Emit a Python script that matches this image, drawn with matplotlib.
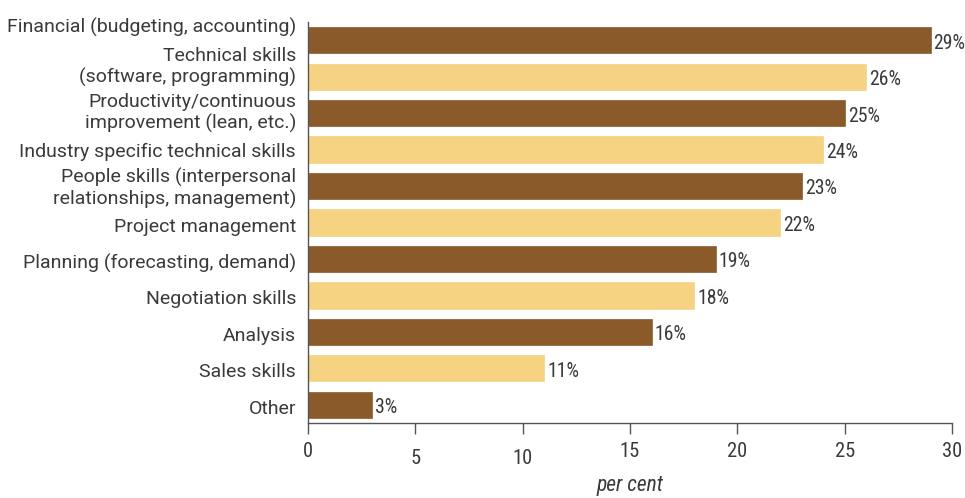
import matplotlib
matplotlib.use("Agg")
import matplotlib.pyplot as plt
from matplotlib import font_manager
from matplotlib.transforms import ScaledTranslation

names = {f.name for f in font_manager.fontManager.ttflist}
cands = ['Roboto Condensed', 'Liberation Sans Narrow', 'Arial Narrow', 'Archivo Narrow',
         'PT Sans Narrow', 'Fira Sans Condensed', 'IBM Plex Sans Condensed',
         'Open Sans Condensed', 'Barlow Semi Condensed', 'Roboto']
cond = next(c for c in cands if c in names)
plt.rcParams['font.family'] = [cond, 'DejaVu Sans']
label_family = ['Roboto', 'DejaVu Sans']

categories = [
    "Financial (budgeting, accounting)",
    "Technical skills\n(software, programming)",
    "Productivity/continuous\nimprovement (lean, etc.)",
    "Industry specific technical skills",
    "People skills (interpersonal\nrelationships, management)",
    "Project management",
    "Planning (forecasting, demand)",
    "Negotiation skills",
    "Analysis",
    "Sales skills",
    "Other",
]
values = [29, 26, 25, 24, 23, 22, 19, 18, 16, 11, 3]
xticks = [0, 5, 10, 15, 20, 25, 30]

# style: vertical nudge of category labels (pixels, positive = down), as in the reference
label_nudge_px = [-13, -10, 0, 2, 2, 4, 4, 4, 4, 4, 4]

dark = '#8A5A2B'
light = '#F5D383'
txt = '#3a3a3a'
fnum = 14.2
flab = 14

fig = plt.figure(figsize=(9.65, 4.98), dpi=100)
ax = fig.add_axes([0.3192, 0.1506, 0.6674, 0.8052])

ypos = list(range(len(categories)))
colors = [dark if i % 2 == 0 else light for i in ypos]
ax.barh(ypos, values, height=0.72, color=colors, edgecolor=colors, linewidth=0.5)
for y, v in zip(ypos, values):
    ax.text(v + 0.14, y + 0.08, f"{v}%", va='center', ha='left', fontsize=fnum, color=txt)

ax.set_ylim(10.5, -0.5)
ax.set_xlim(0, 30)
ax.set_yticks([])
base = ax.get_yaxis_transform()
for y, lab, nd in zip(ypos, categories, label_nudge_px):
    tr = base + ScaledTranslation(-12 / 100, -nd / 100, fig.dpi_scale_trans)
    ax.text(0, y, lab, transform=tr, ha='right', va='center', multialignment='right',
            fontsize=flab, color=txt, family=label_family, linespacing=1.2)

ax.set_xticks(xticks)
ax.set_xticklabels([str(t) for t in xticks], fontsize=14.8, color=txt)
ax.tick_params(axis='x', length=8, width=1, color='#555555', pad=6, direction='out')
for lab, t in zip(ax.get_xticklabels(), xticks):
    if t in (5, 10):
        lab.set_y(-0.016)
for s in ['top', 'right']:
    ax.spines[s].set_visible(False)
for s in ['left', 'bottom']:
    ax.spines[s].set_color('#555555')
    ax.spines[s].set_linewidth(1)
ax.set_xlabel('per cent', fontsize=15.5, style='italic', color=txt, labelpad=5)

fig.savefig('out.png', dpi=100)
